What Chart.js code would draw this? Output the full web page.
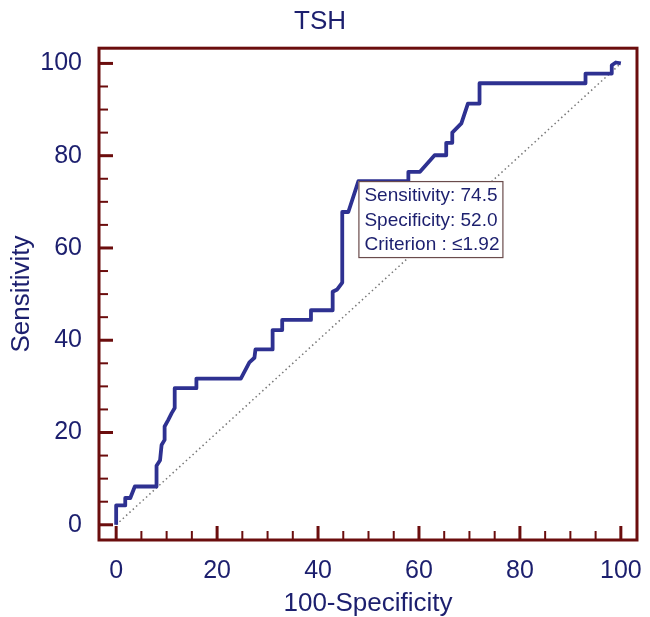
<!DOCTYPE html>
<html>
<head>
<meta charset="utf-8">
<script src="https://cdn.jsdelivr.net/npm/chart.js@4.4.1/dist/chart.umd.min.js"></script>
<style>
  html, body { margin: 0; padding: 0; background: #fff; }
</style>
</head>
<body>
<canvas id="rocChart" width="650" height="617"></canvas>
<script>
// ROC curve vertices (100-Specificity, Sensitivity)
const specX = [0, 0, 1.8, 1.8, 2.8, 3.7, 8.0, 8.0, 8.7, 9.0, 9.6, 9.6, 10.3, 11.0, 11.6, 11.6, 15.9, 15.9, 24.7, 26.4,
    27.4, 27.6, 31.0, 31.0, 32.9, 32.9, 38.6, 38.6, 42.9, 42.9, 43.8, 44.8, 44.8, 46.0, 48.0, 57.9, 57.9, 60.2, 63.1, 65.4,
    65.4, 66.6, 66.6, 68.4, 69.7, 72.0, 72.0, 93.0, 93.0, 98.2, 98.2, 99.0, 100];
const sensY = [0, 4.2, 4.2, 5.8, 5.8, 8.3, 8.3, 12.8, 14.0, 17.3, 18.4, 21.3, 22.7, 24.2, 25.3, 29.6, 29.6, 31.7, 31.7, 35.2,
    36.2, 38.0, 38.0, 42.2, 42.2, 44.4, 44.4, 46.5, 46.5, 50.5, 51.0, 52.5, 67.8, 67.8, 74.5, 74.5, 76.5, 76.5, 80.1, 80.1,
    82.8, 82.8, 85.0, 87.0, 91.3, 91.3, 95.7, 95.7, 97.8, 97.8, 99.6, 100.2, 100];
const diagX = [0, 100];
const diagY = [0, 100];
const tickValues = [0, 20, 40, 60, 80, 100];
const minorTicks = [0, 5, 10, 15, 20, 25, 30, 35, 40, 45, 50, 55, 60, 65, 70, 75, 80, 85, 90, 95, 100];
const cutoffPoint = [48.0, 74.5];
const infoLines = ['Sensitivity: 74.5', 'Specificity: 52.0', 'Criterion : \u22641.92'];

const navy = '#1c1f6e';
const frameColor = '#6b0d0d';

const framePlugin = {
    id: 'frameTicks',
    afterDatasetsDraw(chart) {
        const ctx = chart.ctx;
        const a = chart.chartArea;
        const xs = chart.scales.x, ys = chart.scales.y;
        ctx.save();
        ctx.strokeStyle = frameColor;
        // ticks pointing inward
        minorTicks.forEach(v => {
            const major = v % 20 === 0;
            ctx.lineWidth = major ? 3 : 2;
            const len = major ? 14 : 9;
            const px = xs.getPixelForValue(v);
            ctx.beginPath();
            ctx.moveTo(px, a.bottom);
            ctx.lineTo(px, a.bottom - len);
            ctx.stroke();
            const py = ys.getPixelForValue(v);
            ctx.beginPath();
            ctx.moveTo(a.left, py);
            ctx.lineTo(a.left + len, py);
            ctx.stroke();
        });
        ctx.lineWidth = 3;
        ctx.strokeRect(a.left, a.top, a.right - a.left, a.bottom - a.top);

        // criterion box
        const bx = xs.getPixelForValue(cutoffPoint[0]);
        const by = ys.getPixelForValue(cutoffPoint[1]);
        const bw = 144, bh = 76;
        ctx.fillStyle = '#ffffff';
        ctx.fillRect(bx, by, bw, bh);
        ctx.lineWidth = 1.2;
        ctx.strokeStyle = '#6a4b4b';
        ctx.strokeRect(bx + 0.5, by + 0.5, bw, bh);
        ctx.fillStyle = navy;
        ctx.font = '19px "Liberation Sans", Arial, sans-serif';
        ctx.textBaseline = 'middle';
        ctx.textAlign = 'left';
        infoLines.forEach((t, i) => ctx.fillText(t, bx + 6, by + 15 + i * 24.5));
        ctx.restore();
    }
};

const fontFamily = '"Liberation Sans", Arial, sans-serif';

new Chart(document.getElementById('rocChart'), {
    type: 'scatter',
    data: {
        datasets: [
            {
                label: 'TSH',
                data: specX.map((x, i) => ({ x: x, y: sensY[i] })),
                showLine: true,
                borderColor: '#2e3191',
                borderWidth: 3.8,
                pointRadius: 0,
                tension: 0,
                borderJoinStyle: 'round',
            },
            {
                label: 'Reference',
                data: diagX.map((x, i) => ({ x: x, y: diagY[i] })),
                showLine: true,
                borderColor: '#777777',
                borderWidth: 1.5,
                borderDash: [1.5, 3],
                pointRadius: 0,
            },
        ],
    },
    options: {
        responsive: false,
        animation: false,
        layout: { padding: { left: 0, right: 10, top: 0, bottom: 0 } },
        plugins: {
            legend: { display: false },
            tooltip: { enabled: false },
            title: {
                display: true,
                text: 'TSH',
                color: navy,
                font: { family: fontFamily, size: 26, weight: 'normal' },
                padding: { top: 6, bottom: 11 },
            },
        },
        scales: {
            x: {
                type: 'linear',
                min: -3.4,
                max: 103.2,
                grid: { display: false },
                border: { display: false },
                afterBuildTicks: s => { s.ticks = tickValues.map(v => ({ value: v })); },
                afterFit: s => { s.height = 77; },
                ticks: {
                    color: navy,
                    padding: 8,
                    maxRotation: 0,
                    autoSkip: false,
                    font: { family: fontFamily, size: 25 },
                },
                title: {
                    display: true,
                    text: '100-Specificity',
                    color: navy,
                    font: { family: fontFamily, size: 26, lineHeight: 1.0 },
                    padding: { top: 0, bottom: 0 },
                },
            },
            y: {
                type: 'linear',
                min: -3.3,
                max: 103.3,
                grid: { display: false },
                border: { display: false },
                afterBuildTicks: s => { s.ticks = tickValues.map(v => ({ value: v })); },
                afterFit: s => { s.width = 99; },
                ticks: {
                    color: navy,
                    padding: 9,
                    autoSkip: false,
                    font: { family: fontFamily, size: 25 },
                },
                title: {
                    display: true,
                    text: 'Sensitivity',
                    color: navy,
                    font: { family: fontFamily, size: 26 },
                    padding: { top: 6, bottom: 0 },
                },
            },
        },
    },
    plugins: [framePlugin],
});
</script>
</body>
</html>
